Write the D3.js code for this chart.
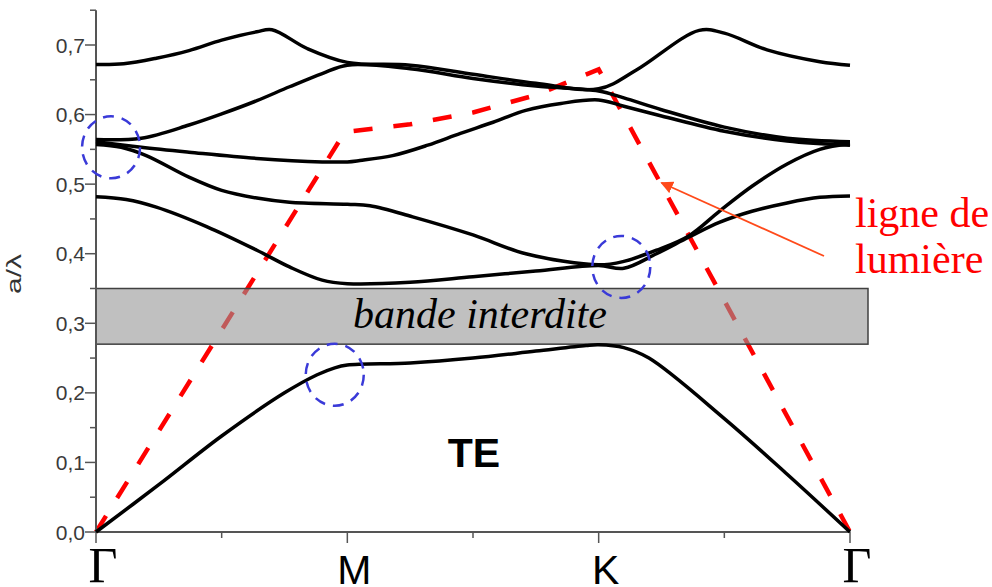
<!DOCTYPE html>
<html><head><meta charset="utf-8">
<script src="https://cdn.jsdelivr.net/npm/d3@7"></script>
<style>body{margin:0;background:#fff}</style>
</head><body>
<svg id="c" width="992" height="587"></svg>
<script>
// k-path: Γ=0, M=1, K=2, Γ=3
const kPoints = [0, 1, 2, 3];
const kLabels = ["Γ", "M", "K", "Γ"];
const kLabelSerif = [true, false, false, true];
const yTicks = [0, 0.1, 0.2, 0.3, 0.4, 0.5, 0.6, 0.7];
const yTickLabels = ["0,0", "0,1", "0,2", "0,3", "0,4", "0,5", "0,6", "0,7"];
const yMinor = [0.05, 0.15, 0.25, 0.35, 0.45, 0.55, 0.65, 0.75];
const xMinor = [0.5, 1.5, 2.5];

// TE bands: [k, a/λ]
const band1 = [[0,0],[0.25,0.068],[0.5,0.138],[0.75,0.200],[0.88,0.226],[0.95,0.236],[1.0,0.240],[1.25,0.243],[1.5,0.250],[1.75,0.260],[1.95,0.268],[2.0,0.269],[2.1,0.265],[2.2,0.250],[2.5,0.163],[2.75,0.083],[3,0]];
const band2 = [[0,0.482],[0.12,0.478],[0.24,0.467],[0.44,0.439],[0.64,0.405],[0.77,0.381],[0.9,0.362],[1.0,0.357],[1.25,0.359],[1.5,0.367],[1.75,0.375],[2.0,0.383],[2.1,0.379],[2.23,0.400],[2.36,0.424],[2.48,0.445],[2.61,0.461],[2.75,0.473],[2.88,0.481],[3,0.483]];
const band3 = [[0,0.557],[0.1,0.553],[0.2,0.541],[0.37,0.510],[0.5,0.491],[0.64,0.480],[0.77,0.474],[1.0,0.471],[1.09,0.469],[1.26,0.453],[1.5,0.427],[1.71,0.400],[2.0,0.384],[2.1,0.389],[2.23,0.405],[2.36,0.426],[2.48,0.461],[2.61,0.497],[2.75,0.529],[2.88,0.550],[3,0.558]];
const band4 = [[0,0.561],[0.18,0.553],[0.37,0.546],[0.64,0.537],[0.9,0.532],[1.0,0.532],[1.05,0.534],[1.18,0.541],[1.32,0.556],[1.45,0.573],[1.58,0.589],[1.71,0.606],[1.85,0.616],[2.0,0.621],[2.1,0.612],[2.25,0.598],[2.5,0.576],[2.75,0.562],[3,0.556]];
const band5 = [[0,0.564],[0.18,0.566],[0.37,0.585],[0.5,0.601],[0.64,0.620],[0.77,0.640],[0.9,0.659],[1.0,0.671],[1.25,0.666],[1.5,0.652],[1.75,0.641],[2.0,0.634],[2.1,0.624],[2.25,0.607],[2.5,0.582],[2.75,0.566],[3,0.561]];
const band6 = [[0,0.672],[0.11,0.673],[0.24,0.681],[0.37,0.692],[0.5,0.707],[0.64,0.719],[0.7,0.722],[0.84,0.695],[1.0,0.675],[1.25,0.671],[1.5,0.658],[1.75,0.645],[2.0,0.637],[2.15,0.664],[2.4,0.721],[2.5,0.717],[2.67,0.693],[2.88,0.676],[3,0.671]];
const bands = [band1, band2, band3, band4, band5, band6];

// light line
const lightLine = [[0,0],[0.99,0.575],[1.25,0.586],[1.5,0.603],[1.75,0.628],[2.0,0.665],[3,0]];

// forbidden band
const gapBand = [0.27, 0.35];
const gapLabel = "bande interdite";
const polLabel = "TE";
const lightLabel = ["ligne de", "lumière"];
const yLabel = "a/λ";

// highlighted points [k, a/λ]
const circles = [[0.06, 0.553], [0.95, 0.226], [2.09, 0.381]];

const svg = d3.select("#c");
const x = d3.scaleLinear().domain([0, 3]).range([96, 850]);
const y = d3.scaleLinear().domain([0, 0.7]).range([532, 45]);

// light line (under the gap band)
const lineL = d3.line().x(d => x(d[0])).y(d => y(d[1]));
svg.append("path").datum(lightLine).attr("d", lineL)
  .attr("fill", "none").attr("stroke", "#ff0000").attr("stroke-width", 4.5)
  .attr("stroke-dasharray", "19,21");

// gap band
svg.append("rect").attr("x", x(0)).attr("y", y(gapBand[1]))
  .attr("width", x(3) + 18 - x(0)).attr("height", y(gapBand[0]) - y(gapBand[1]))
  .attr("fill", "#969696").attr("fill-opacity", 0.6)
  .attr("stroke", "#404040").attr("stroke-width", 1.5);
svg.append("text").attr("x", (x(0) + x(3) + 18) / 2 - 2).attr("y", y(0.31) + 12)
  .attr("text-anchor", "middle").attr("font-family", "Liberation Serif, Times New Roman, serif")
  .attr("font-style", "italic").attr("font-size", 42).attr("fill", "#000").text(gapLabel);

// axes
const axG = svg.append("g").attr("stroke", "#555").attr("fill", "none");
axG.append("line").attr("x1", x(0)).attr("x2", x(0)).attr("y1", y(0)).attr("y2", y(0.75)).attr("stroke-width", 2);
axG.append("line").attr("x1", x(0)).attr("x2", x(3)).attr("y1", y(0)).attr("y2", y(0)).attr("stroke-width", 2);
axG.selectAll(".ymaj").data(yTicks).join("line")
  .attr("x1", x(0) - 11).attr("x2", x(0)).attr("y1", d => y(d)).attr("y2", d => y(d)).attr("stroke-width", 1.5);
axG.selectAll(".ymin").data(yMinor).join("line")
  .attr("x1", x(0) - 6).attr("x2", x(0)).attr("y1", d => y(d)).attr("y2", d => y(d)).attr("stroke-width", 1.5);
axG.selectAll(".xmaj").data(kPoints).join("line")
  .attr("x1", d => x(d)).attr("x2", d => x(d)).attr("y1", y(0)).attr("y2", y(0) + 11).attr("stroke-width", 1.5);
axG.selectAll(".xmin").data(xMinor).join("line")
  .attr("x1", d => x(d)).attr("x2", d => x(d)).attr("y1", y(0)).attr("y2", y(0) + 6).attr("stroke-width", 1.5);

svg.selectAll(".ylab").data(yTicks).join("text")
  .attr("x", x(0) - 11).attr("y", d => y(d) + 7.5).attr("text-anchor", "end")
  .attr("font-family", "Liberation Sans, Arial, sans-serif").attr("font-size", 21).attr("fill", "#3a3a3a")
  .text((d, i) => yTickLabels[i]);

svg.selectAll(".xlab").data(kPoints).join("text")
  .attr("x", d => x(d) + 7).attr("y", (d, i) => kLabelSerif[i] ? 582 : 584).attr("text-anchor", "middle")
  .attr("font-family", (d, i) => kLabelSerif[i] ? "Liberation Serif, Times New Roman, serif" : "Liberation Sans, Arial, sans-serif")
  .attr("font-size", (d, i) => kLabelSerif[i] ? 50 : 41).attr("fill", "#000")
  .text((d, i) => kLabels[i]);

svg.append("text").attr("transform", "translate(21,274) rotate(-90) scale(1.5,1)").attr("text-anchor", "middle")
  .attr("font-family", "Liberation Sans, Arial, sans-serif").attr("font-size", 20).attr("fill", "#333").text(yLabel);

// bands
const lineB = d3.line().x(d => x(d[0])).y(d => y(d[1])).curve(d3.curveCatmullRom.alpha(0.5));
svg.selectAll(".band").data(bands).join("path").attr("d", lineB)
  .attr("fill", "none").attr("stroke", "#000").attr("stroke-width", 3.5).attr("stroke-linejoin", "round");

// circles
svg.selectAll(".circ").data(circles).join("ellipse")
  .attr("cx", d => x(d[0])).attr("cy", d => y(d[1])).attr("rx", 29).attr("ry", 31)
  .attr("fill", "none").attr("stroke", "#3a3ad8").attr("stroke-width", 2.5).attr("stroke-dasharray", "11,8");

// TE label
svg.append("text").attr("x", x(1.5) + 1).attr("y", y(0.093))
  .attr("text-anchor", "middle").attr("font-family", "Liberation Sans, Arial, sans-serif")
  .attr("font-weight", "bold").attr("font-size", 41).attr("fill", "#000").text(polLabel);

// arrow + light label
svg.append("defs").append("marker").attr("id", "ah").attr("viewBox", "0 0 10 10")
  .attr("refX", 9).attr("refY", 5).attr("markerWidth", 7).attr("markerHeight", 7).attr("orient", "auto")
  .append("path").attr("d", "M0,0 L10,5 L0,10 Z").attr("fill", "#ff4a1a");
svg.append("line").attr("x1", 824).attr("y1", 256).attr("x2", x(2.25)).attr("y2", y(0.502))
  .attr("stroke", "#ff4a1a").attr("stroke-width", 1.8).attr("marker-end", "url(#ah)");
svg.selectAll(".ll").data(lightLabel).join("text")
  .attr("x", 855).attr("y", (d, i) => 227 + i * 46)
  .attr("font-family", "Liberation Serif, Times New Roman, serif").attr("font-size", 42).attr("fill", "#ff0000")
  .text(d => d);
</script>
</body></html>
